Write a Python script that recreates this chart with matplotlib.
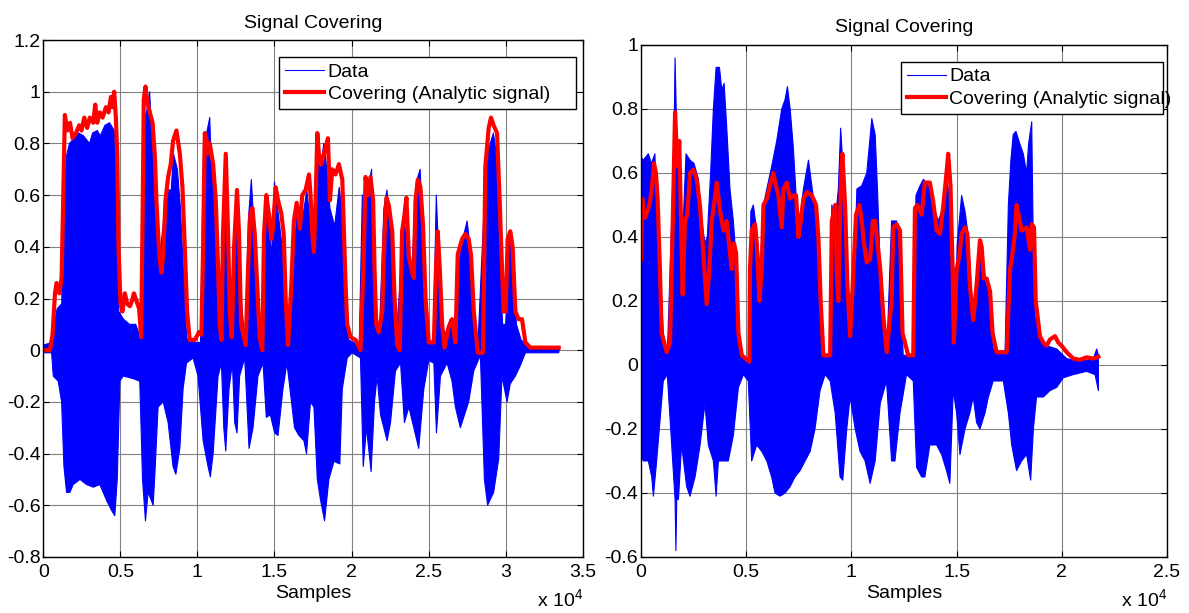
import matplotlib
matplotlib.use('Agg')
import matplotlib.pyplot as plt
import numpy as np

plt.rcParams['font.family'] = 'Liberation Sans'
plt.rcParams['font.size'] = 14
plt.rcParams['mathtext.default'] = 'regular'

# ---- left panel: (sample, value) ----
left_env_x = [0, 430, 600, 760, 860, 1040, 1190, 1300, 1400, 1560,
              1730, 1900, 2120, 2330, 2480, 2660, 2850, 3020, 3240, 3370,
              3500, 3670, 3850, 4060, 4230, 4390, 4490, 4600, 4710, 4800,
              4880, 5010, 5140, 5290, 5440, 5620, 5750, 5880, 6050, 6220,
              6350, 6440, 6520, 6630, 6740, 6870, 7090, 7240, 7340, 7450,
              7560, 7670, 7780, 7930, 8100, 8270, 8420, 8640, 8860, 9030,
              9180, 9330, 9500, 9830, 10110, 10260, 10370, 10480, 10580, 10690,
              10800, 11020, 11190, 11340, 11450, 11560, 11660, 11840, 11990, 12100,
              12230, 12380, 12570, 12700, 12830, 13130, 13280, 13440, 13570, 13720,
              13870, 14040, 14210, 14320, 14470, 14650, 14800, 14900, 15080, 15230,
              15440, 15600, 15730, 15880, 16090, 16260, 16440, 16650, 16800, 17020,
              17240, 17340, 17450, 17560, 17670, 17780, 17880, 18030, 18210, 18470,
              18600, 18750, 18960, 19180, 19400, 19500, 19610, 19720, 19940, 20260,
              20580, 20760, 20910, 21060, 21230, 21400, 21490, 21600, 21770, 21990,
              22140, 22270, 22420, 22640, 22790, 22960, 23130, 23280, 23430, 23560,
              23720, 23930, 24040, 24150, 24300, 24470, 24640, 24800, 25010, 25340,
              25470, 25590, 25720, 25880, 26030, 26310, 26520, 26740, 26890, 27170,
              27390, 27600, 27750, 27930, 28190, 28530, 28680, 28900, 29050, 29220,
              29440, 29610, 29760, 29870, 30000, 30130, 30300, 30450, 30630, 30840,
              31060, 31280, 31600, 32680, 33440]
left_env = [0.0, 0.0, 0.06, 0.22, 0.26, 0.22, 0.28, 0.6, 0.91, 0.85,
            0.88, 0.82, 0.84, 0.87, 0.85, 0.9, 0.86, 0.9, 0.88, 0.95,
            0.88, 0.92, 0.9, 0.94, 0.92, 0.98, 0.94, 1.0, 0.9, 0.75,
            0.4, 0.18, 0.15, 0.22, 0.18, 0.17, 0.19, 0.22, 0.19, 0.16,
            0.05, 0.5, 0.97, 1.02, 0.96, 0.93, 0.88, 0.75, 0.58, 0.45,
            0.35, 0.3, 0.37, 0.58, 0.67, 0.72, 0.81, 0.85, 0.76, 0.63,
            0.4, 0.15, 0.04, 0.04, 0.07, 0.06, 0.4, 0.84, 0.82, 0.76,
            0.8, 0.72, 0.58, 0.32, 0.1, 0.04, 0.45, 0.76, 0.45, 0.15,
            0.05, 0.4, 0.62, 0.45, 0.1, 0.02, 0.3, 0.53, 0.55, 0.45,
            0.26, 0.05, 0.0, 0.45, 0.6, 0.52, 0.43, 0.47, 0.63, 0.58,
            0.53, 0.45, 0.19, 0.02, 0.25, 0.5, 0.57, 0.47, 0.6, 0.62,
            0.68, 0.6, 0.45, 0.38, 0.58, 0.84, 0.76, 0.72, 0.76, 0.82,
            0.58, 0.7, 0.68, 0.72, 0.66, 0.47, 0.26, 0.1, 0.05, 0.04,
            0.0, 0.3, 0.67, 0.6, 0.67, 0.58, 0.32, 0.1, 0.07, 0.15,
            0.45, 0.59, 0.56, 0.46, 0.2, 0.02, 0.0, 0.46, 0.52, 0.59,
            0.36, 0.3, 0.28, 0.58, 0.66, 0.63, 0.48, 0.2, 0.03, 0.03,
            0.3, 0.46, 0.32, 0.1, 0.01, 0.09, 0.12, 0.03, 0.37, 0.43,
            0.45, 0.43, 0.37, 0.15, -0.01, -0.01, 0.71, 0.86, 0.9, 0.87,
            0.84, 0.58, 0.32, 0.15, 0.15, 0.43, 0.46, 0.4, 0.15, 0.12,
            0.12, 0.03, 0.01, 0.01, 0.01]

left_hi_x = [0, 600, 700, 900, 1200, 1300, 1500, 1700, 2000, 2300,
             2600, 3000, 3200, 3500, 3700, 4000, 4300, 4600, 4780, 4900,
             5200, 5600, 6000, 6300, 6500, 6700, 6900, 7050, 7200, 7400,
             7600, 7800, 8000, 8300, 8450, 8700, 8900, 9100, 9300, 9500,
             10200, 10400, 10600, 10800, 10900, 11100, 11300, 11500, 11700, 11850,
             12000, 12200, 12500, 12700, 13100, 13300, 13500, 13650, 13900, 14200,
             14400, 14600, 14800, 15000, 15200, 15500, 15800, 16200, 16500, 16800,
             17100, 17400, 17600, 17800, 18000, 18200, 18400, 18600, 18900, 19200,
             19400, 19600, 19800, 20500, 20700, 21000, 21300, 21500, 21800, 22100,
             22300, 22600, 22900, 23200, 23400, 23600, 23900, 24200, 24450, 24600,
             24900, 25300, 25500, 25700, 26000, 26400, 26800, 27000, 27300, 27500,
             27650, 27900, 28200, 28600, 28800, 29000, 29200, 29350, 29500, 29800,
             30000, 30250, 30500, 30700, 31000, 31500, 33500]
left_hi = [0.02, 0.03, 0.1, 0.16, 0.18, 0.7, 0.75, 0.8, 0.82, 0.84,
           0.83, 0.8, 0.84, 0.85, 0.83, 0.87, 0.88, 0.85, 0.7, 0.15,
           0.12, 0.1, 0.1, 0.05, 0.9, 0.92, 1.0, 0.82, 0.65, 0.42,
           0.38, 0.5, 0.62, 0.62, 0.76, 0.7, 0.55, 0.3, 0.05, 0.03,
           0.03, 0.8, 0.84, 0.9, 0.72, 0.55, 0.2, 0.05, 0.4, 0.72,
           0.35, 0.04, 0.55, 0.3, 0.02, 0.5, 0.66, 0.5, 0.2, 0.0,
           0.55, 0.52, 0.36, 0.65, 0.55, 0.4, 0.02, 0.35, 0.55, 0.5,
           0.62, 0.45, 0.4, 0.73, 0.7, 0.8, 0.7, 0.55, 0.48, 0.63,
           0.52, 0.15, 0.04, 0.02, 0.6, 0.6, 0.7, 0.15, 0.05, 0.55,
           0.62, 0.4, 0.05, 0.3, 0.55, 0.35, 0.3, 0.65, 0.7, 0.5,
           0.05, 0.02, 0.6, 0.3, 0.05, 0.12, 0.1, 0.35, 0.45, 0.5,
           0.42, 0.15, 0.02, 0.55, 0.75, 0.8, 0.84, 0.78, 0.55, 0.1,
           0.1, 0.43, 0.3, 0.1, 0.04, 0.01, 0.01]

left_lo_x = [0, 540, 650, 970, 1190, 1340, 1510, 1730, 1940, 2380,
             2810, 3240, 3670, 4100, 4430, 4640, 4800, 4970, 5180, 5830,
             6260, 6440, 6630, 6800, 7130, 7240, 7450, 7780, 8100, 8420,
             8600, 8860, 9070, 9290, 9720, 10040, 10370, 10690, 10840, 11020,
             11340, 11560, 11710, 11840, 12050, 12270, 12420, 12570, 12740, 13070,
             13350, 13610, 13930, 14260, 14470, 14730, 15010, 15230, 15550, 15810,
             16300, 16590, 16910, 17080, 17340, 17560, 17780, 17990, 18250, 18530,
             18860, 19240, 19400, 19720, 20040, 20580, 20760, 20970, 21270, 21490,
             21660, 21880, 22310, 22530, 22850, 23180, 23430, 23720, 24040, 24360,
             24690, 25010, 25340, 25510, 25770, 26200, 26520, 26740, 27060, 27280,
             27600, 27930, 28360, 28620, 28830, 29220, 29550, 29760, 30090, 30300,
             30630, 30950, 31280, 33440]
left_lo = [-0.01, -0.01, -0.1, -0.12, -0.2, -0.45, -0.55, -0.55, -0.52, -0.5,
           -0.52, -0.53, -0.52, -0.58, -0.62, -0.64, -0.5, -0.12, -0.1, -0.11,
           -0.12, -0.5, -0.66, -0.55, -0.6, -0.48, -0.22, -0.2, -0.28, -0.45,
           -0.48, -0.38, -0.15, -0.05, -0.03, -0.1, -0.35, -0.45, -0.49, -0.4,
           -0.1, -0.05, -0.3, -0.39, -0.15, -0.05, -0.28, -0.32, -0.1, -0.03,
           -0.38, -0.3, -0.1, -0.05, -0.26, -0.25, -0.32, -0.33, -0.15, -0.05,
           -0.3, -0.33, -0.35, -0.4, -0.2, -0.22, -0.5, -0.58, -0.66, -0.5,
           -0.43, -0.44, -0.15, -0.03, -0.01, -0.03, -0.45, -0.3, -0.47, -0.2,
           -0.1, -0.25, -0.35, -0.28, -0.08, -0.05, -0.28, -0.22, -0.3, -0.38,
           -0.15, -0.04, -0.05, -0.32, -0.1, -0.05, -0.12, -0.22, -0.3, -0.26,
           -0.2, -0.08, -0.02, -0.5, -0.6, -0.55, -0.42, -0.1, -0.2, -0.13,
           -0.1, -0.06, -0.01, -0.01]

# ---- right panel ----
right_env_x = [0, 60, 110, 190, 350, 430, 510, 620, 710, 790,
               900, 980, 1220, 1380, 1510, 1620, 1730, 1820, 1900, 1980,
               2090, 2200, 2330, 2490, 2650, 2800, 2960, 3120, 3250, 3360,
               3470, 3600, 3760, 3920, 4070, 4200, 4310, 4420, 4520, 4630,
               4790, 5150, 5180, 5260, 5420, 5500, 5630, 5740, 5820, 5980,
               6130, 6290, 6420, 6530, 6690, 6770, 6930, 7090, 7240, 7370,
               7480, 7590, 7720, 7880, 8120, 8320, 8430, 8540, 8670, 8990,
               9070, 9230, 9300, 9380, 9490, 9570, 9700, 9810, 9940, 10100,
               10220, 10380, 10490, 10600, 10730, 10890, 11020, 11130, 11240, 11370,
               11520, 11680, 11910, 11990, 12150, 12310, 12430, 12700, 12940, 13020,
               13130, 13340, 13490, 13730, 13890, 14050, 14210, 14370, 14520, 14600,
               14710, 14810, 14870, 15000, 15130, 15240, 15400, 15510, 15630, 15790,
               15950, 16110, 16190, 16300, 16430, 16590, 16710, 16900, 17380, 17540,
               17620, 17770, 17850, 17980, 18090, 18330, 18490, 18570, 18680, 18760,
               18960, 19120, 19280, 19440, 19680, 19830, 19990, 20230, 20550, 20860,
               21180, 21500, 21740]
right_env = [0.33, 0.52, 0.48, 0.46, 0.49, 0.51, 0.55, 0.63, 0.6, 0.52,
             0.3, 0.1, 0.04, 0.07, 0.45, 0.79, 0.62, 0.7, 0.45, 0.22,
             0.45, 0.47, 0.6, 0.61, 0.58, 0.5, 0.35, 0.19, 0.3, 0.45,
             0.5, 0.57, 0.48, 0.42, 0.45, 0.37, 0.3, 0.38, 0.35, 0.1,
             0.03, 0.01, 0.3, 0.42, 0.44, 0.38, 0.2, 0.3, 0.5, 0.52,
             0.56, 0.6, 0.56, 0.53, 0.43, 0.55, 0.57, 0.52, 0.53, 0.53,
             0.4, 0.45, 0.52, 0.54, 0.53, 0.5, 0.4, 0.2, 0.03, 0.03,
             0.45, 0.5, 0.3, 0.2, 0.55, 0.66, 0.5, 0.25, 0.09, 0.3,
             0.47, 0.5, 0.45, 0.38, 0.32, 0.33, 0.45, 0.45, 0.38, 0.3,
             0.15, 0.04, 0.2, 0.43, 0.44, 0.42, 0.1, 0.03, 0.03, 0.49,
             0.5, 0.47, 0.57, 0.57, 0.51, 0.42, 0.41, 0.5, 0.6, 0.66,
             0.56, 0.3, 0.07, 0.3, 0.34, 0.41, 0.43, 0.41, 0.25, 0.14,
             0.25, 0.39, 0.37, 0.27, 0.27, 0.23, 0.1, 0.04, 0.04, 0.3,
             0.33, 0.41, 0.5, 0.46, 0.42, 0.43, 0.36, 0.44, 0.43, 0.2,
             0.09, 0.07, 0.06, 0.08, 0.09, 0.07, 0.06, 0.04, 0.02, 0.016,
             0.024, 0.02, 0.026]

right_hi_x = [0, 110, 350, 500, 660, 745, 900, 1060, 1250, 1460,
              1570, 1620, 1700, 1820, 1930, 2010, 2140, 2330, 2520, 2730,
              2890, 3040, 3150, 3310, 3440, 3570, 3730, 3840, 3950, 4070,
              4230, 4390, 4550, 4680, 4870, 5150, 5220, 5340, 5500, 5660,
              5820, 5980, 6210, 6450, 6690, 6850, 6960, 7090, 7240, 7400,
              7560, 7720, 7960, 8160, 8350, 8510, 8670, 8990, 9070, 9230,
              9380, 9490, 9620, 9780, 9940, 10100, 10260, 10490, 10730, 10970,
              11130, 11240, 11370, 11520, 11680, 11910, 12150, 12340, 12460, 12940,
              13070, 13260, 13420, 13570, 13730, 13890, 14130, 14290, 14450, 14520,
              14680, 14810, 14900, 15030, 15130, 15240, 15400, 15560, 15710, 15840,
              15980, 16110, 16300, 16430, 16590, 16740, 17300, 17460, 17580, 17690,
              17820, 18010, 18170, 18330, 18420, 18570, 18650, 18730, 18960, 19280,
              19760, 20230, 20860, 21500, 21660, 21740]
right_hi = [0.65, 0.64, 0.66, 0.63, 0.66, 0.5, 0.3, 0.1, 0.03, 0.45,
            0.7, 0.96, 0.72, 0.55, 0.3, 0.45, 0.66, 0.64, 0.63, 0.58,
            0.45, 0.38, 0.4, 0.6, 0.8, 0.93, 0.93, 0.86, 0.88, 0.75,
            0.55, 0.45, 0.3, 0.08, 0.02, 0.02, 0.48, 0.5, 0.42, 0.3,
            0.5, 0.55, 0.62, 0.7, 0.8, 0.83, 0.87, 0.8, 0.68, 0.5,
            0.46, 0.55, 0.64, 0.54, 0.45, 0.25, 0.03, 0.03, 0.5, 0.45,
            0.55, 0.74, 0.6, 0.35, 0.1, 0.2, 0.55, 0.56, 0.6, 0.77,
            0.72, 0.55, 0.3, 0.12, 0.03, 0.45, 0.45, 0.3, 0.03, 0.03,
            0.53, 0.56, 0.58, 0.57, 0.55, 0.5, 0.45, 0.48, 0.52, 0.58,
            0.52, 0.3, 0.07, 0.38, 0.45, 0.53, 0.48, 0.4, 0.22, 0.15,
            0.3, 0.36, 0.3, 0.25, 0.2, 0.05, 0.03, 0.5, 0.64, 0.72,
            0.73, 0.69, 0.66, 0.6, 0.69, 0.76, 0.35, 0.15, 0.08, 0.06,
            0.05, 0.02, 0.01, 0.02, 0.05, 0.03]

right_lo_x = [0, 110, 350, 510, 590, 745, 935, 1060, 1250, 1460,
              1620, 1660, 1700, 1780, 1930, 2170, 2330, 2570, 2810, 3040,
              3200, 3440, 3570, 3680, 3920, 4150, 4390, 4630, 4870, 5100,
              5260, 5500, 5740, 5980, 6210, 6370, 6610, 6850, 7090, 7320,
              7560, 7800, 8040, 8270, 8510, 8750, 8990, 9230, 9460, 9590,
              9780, 9940, 10180, 10410, 10650, 10890, 11130, 11370, 11670, 11910,
              12070, 12310, 12620, 12940, 13100, 13340, 13490, 13730, 14050, 14290,
              14520, 14680, 14840, 15000, 15160, 15400, 15630, 15790, 15950, 16110,
              16350, 16510, 16740, 17220, 17460, 17620, 17850, 18090, 18330, 18520,
              18650, 18800, 19120, 19440, 19760, 20070, 20550, 21180, 21580, 21740]
right_lo = [-0.28, -0.3, -0.3, -0.35, -0.41, -0.3, -0.15, -0.05, -0.03, -0.25,
            -0.42, -0.58, -0.42, -0.42, -0.25, -0.38, -0.41, -0.35, -0.25, -0.12,
            -0.25, -0.3, -0.41, -0.3, -0.3, -0.3, -0.22, -0.07, -0.03, -0.05,
            -0.3, -0.25, -0.27, -0.3, -0.35, -0.4, -0.41, -0.4, -0.38, -0.35,
            -0.33, -0.3, -0.27, -0.2, -0.08, -0.03, -0.05, -0.15, -0.35, -0.36,
            -0.2, -0.1, -0.2, -0.27, -0.3, -0.37, -0.3, -0.12, -0.05, -0.3,
            -0.3, -0.15, -0.03, -0.05, -0.32, -0.35, -0.35, -0.25, -0.25, -0.28,
            -0.33, -0.37, -0.08, -0.15, -0.28, -0.2, -0.15, -0.1, -0.18, -0.2,
            -0.15, -0.1, -0.05, -0.05, -0.15, -0.25, -0.33, -0.3, -0.28, -0.36,
            -0.2, -0.1, -0.1, -0.08, -0.07, -0.04, -0.03, -0.02, -0.03, -0.08]

left_xticks = [0, 5000, 10000, 15000, 20000, 25000, 30000, 35000]
left_xlabels = ['0', '0.5', '1', '1.5', '2', '2.5', '3', '3.5']
left_yticks = [-0.8, -0.6, -0.4, -0.2, 0, 0.2, 0.4, 0.6, 0.8, 1.0, 1.2]
left_ylabels = ['-0.8', '-0.6', '-0.4', '-0.2', '0', '0.2', '0.4', '0.6', '0.8', '1', '1.2']
right_xticks = [0, 5000, 10000, 15000, 20000, 25000]
right_xlabels = ['0', '0.5', '1', '1.5', '2', '2.5']
right_yticks = [-0.6, -0.4, -0.2, 0, 0.2, 0.4, 0.6, 0.8, 1.0]
right_ylabels = ['-0.6', '-0.4', '-0.2', '0', '0.2', '0.4', '0.6', '0.8', '1']


def panel(ax, hi_x, hi, lo_x, lo, env_x, env, xt, xl, yt, yl, legbox):
    px = np.r_[hi_x, lo_x[::-1]]
    py = np.r_[hi, lo[::-1]]
    ax.fill(px, py, color='blue', lw=0)
    ax.plot(px, py, color='blue', lw=0.8, label='Data')
    ax.plot(env_x, env, color='red', lw=3, label='Covering (Analytic signal)')
    ax.set_xlim(xt[0], xt[-1])
    ax.set_ylim(yt[0], yt[-1])
    ax.set_xticks(xt)
    ax.set_xticklabels(xl)
    ax.set_yticks(yt)
    ax.set_yticklabels(yl)
    ax.tick_params(direction='in', top=True, right=True, length=4, width=0.8)
    ax.tick_params(axis='y', pad=2)
    ax.tick_params(axis='x', pad=5)
    ax.grid(color='#808080', lw=0.8)
    ax.set_axisbelow(True)
    for s in ax.spines.values():
        s.set_linewidth(1.0)
    ax.set_title('Signal Covering', pad=9, fontsize=14)
    ax.set_xlabel('Samples', labelpad=3)
    ax.text(1.0, -0.103, 'x 10$^4$', transform=ax.transAxes, ha='right', va='bottom')
    leg = ax.legend(loc='upper left', bbox_to_anchor=legbox, mode='expand', borderaxespad=0,
                    fancybox=False, edgecolor='black', framealpha=1,
                    handlelength=2.0, handletextpad=0.2, borderpad=0.3, labelspacing=0.25)
    leg.get_frame().set_linewidth(1.0)


fig = plt.figure(figsize=(11.89, 6.13), dpi=100)
ax1 = fig.add_axes([0.0364, 0.0914, 0.4537, 0.8433])
ax2 = fig.add_axes([0.5391, 0.0914, 0.4424, 0.8352])

panel(ax1, np.array(left_hi_x), np.array(left_hi), np.array(left_lo_x), np.array(left_lo),
      left_env_x, left_env, left_xticks, left_xlabels, left_yticks, left_ylabels,
      (0.437, 0.0, 0.551, 0.967))
panel(ax2, np.array(right_hi_x), np.array(right_hi), np.array(right_lo_x), np.array(right_lo),
      right_env_x, right_env, right_xticks, right_xlabels, right_yticks, right_ylabels,
      (0.494, 0.0, 0.498, 0.967))

fig.savefig('out.png', dpi=100)
